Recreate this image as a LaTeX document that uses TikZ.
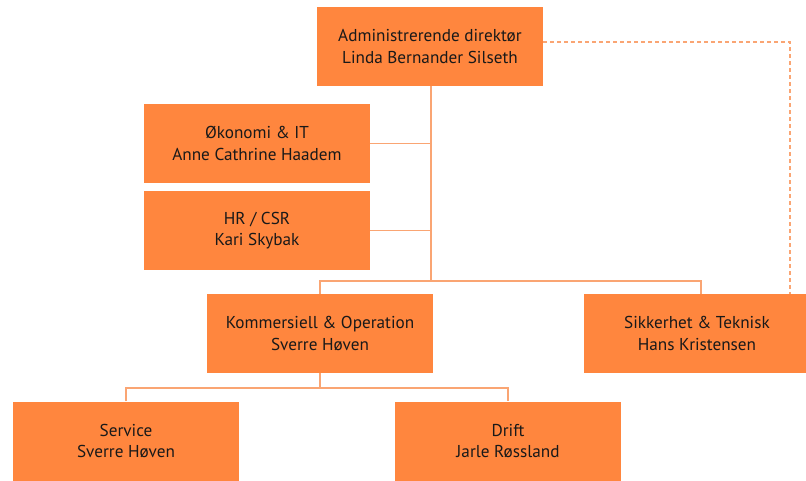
\documentclass[tikz,border=0pt]{standalone}
\usepackage{fontspec}
\setmainfont{PT Sans}
\definecolor{boxorange}{RGB}{255,134,62}
\definecolor{lineorange}{RGB}{250,165,115}
\tikzset{
  unit/.style={fill=boxorange, minimum width=226pt, minimum height=79pt,
    align=center, font=\fontsize{17.2}{21.5}\selectfont, text=black!90, inner sep=0pt},
  link/.style={draw=lineorange, line width=1.3pt},
  dashlink/.style={draw=lineorange, line width=1.3pt, dash pattern=on 4pt off 3pt}
}
\begin{document}
\begin{tikzpicture}[x=1pt, y=-1pt]
  \useasboundingbox (0, 0) rectangle (806, 480);

  \node [unit] (dir) at (430, 46.5) {Administrerende direktør\\Linda Bernander Silseth};
  \node [unit] (oko) at (257, 143.5) {Økonomi \& IT\\Anne Cathrine Haadem};
  \node [unit] (hr)  at (257, 230.5) {HR / CSR\\Kari Skybak};
  \node [unit] (kom) at (320, 333.5) {Kommersiell \& Operation\\Sverre Høven};
  \node [unit] (sik) at (697, 333.5) {Sikkerhet \& Teknisk\\Hans Kristensen};
  \node [unit] (srv) at (126, 441) {Service\\Sverre Høven};
  \node [unit] (drf) at (508, 441) {Drift\\Jarle Røssland};

  \coordinate (topbar) at (431, 281);
  \coordinate (sikbar) at (701, 281);
  \coordinate (kombar) at (320, 388);
  \coordinate (dashturn) at (790, 42);

  \draw [link] (dir.south -| topbar) -- (topbar);
  \draw [link] (oko.east) -- (oko.east -| topbar);
  \draw [link] (hr.east) -- (hr.east -| topbar);
  \draw [link] (kom.north) |- (sikbar) -- (sikbar |- sik.north);
  \draw [link] (kom.south) -- (kombar);
  \draw [link] (srv.north) |- (kombar) -| (drf.north);

  \draw [dashlink] (dir.east |- dashturn) -- (dashturn) -- (dashturn |- sik.north);
\end{tikzpicture}
\end{document}
